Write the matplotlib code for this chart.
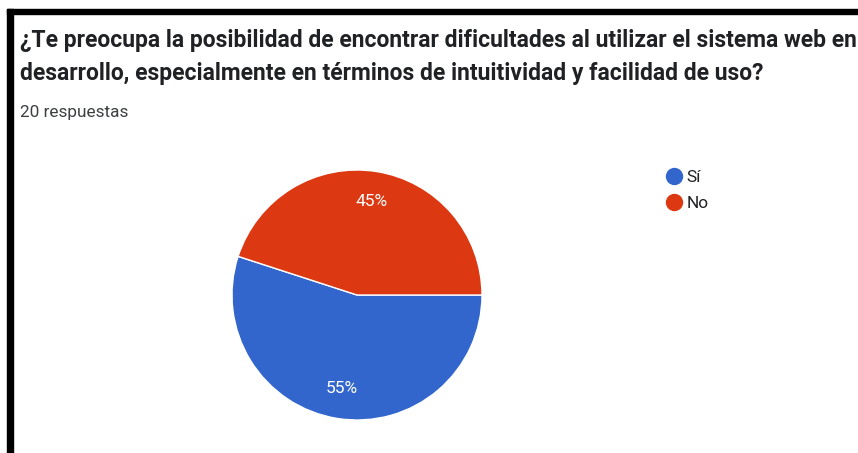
import matplotlib.pyplot as plt
from matplotlib.lines import Line2D
from matplotlib.patches import Rectangle

# survey answers
labels = ['Sí', 'No']
shares = [55, 45]
colors = ['#3366CC', '#DC3912']

title_lines = ['¿Te preocupa la posibilidad de encontrar dificultades al utilizar el sistema web en',
               'desarrollo, especialmente en términos de intuitividad y facilidad de uso?']
subtitle = '20 respuestas'

W, H = 858, 453
plt.rcParams['font.family'] = ['Roboto', 'DejaVu Sans']

fig = plt.figure(figsize=(W / 100, H / 100), dpi=100)


def fx(px):
    return px / W


def fy(py):
    # pixel rows count from the top
    return 1 - py / H


# black frame on the left and top
fig.add_artist(Rectangle((fx(7), 0), fx(6), fy(9), color='black',
                         transform=fig.transFigure))
fig.add_artist(Rectangle((fx(7), fy(14)), 1, fy(9) - fy(14), color='black',
                         transform=fig.transFigure))

for i, line in enumerate(title_lines):
    fig.text(fx(20), fy(47 + 33 * i), line, fontsize=16.5, fontweight='bold',
             color='#202124', va='baseline', ha='left')
fig.text(fx(20), fy(117), subtitle, fontsize=12.4, color='#3c4043', va='baseline')

# pie centred at (357, 295) px, radius 125 px
cx, cy, r = 357, 295, 125
ax = fig.add_axes([fx(cx - r), fy(cy + r), 2 * r / W, 2 * r / H])
ax.pie(shares, colors=colors, startangle=0, counterclock=False,
       autopct='%1.0f%%', pctdistance=0.76,
       wedgeprops=dict(edgecolor='white', linewidth=1),
       textprops=dict(color='white', fontsize=12.5))
ax.set_xlim(-1, 1)
ax.set_ylim(-1, 1)
ax.set_aspect('equal')

handles = [Line2D([], [], marker='o', linestyle='', markersize=11.5,
                  markerfacecolor=c, markeredgecolor=c) for c in colors]
fig.legend(handles, labels, loc='upper left', bbox_to_anchor=(fx(666), fy(170)),
           frameon=False, fontsize=12.4, handlelength=0.9, handletextpad=0.3,
           labelspacing=0.62, borderpad=0, borderaxespad=0, labelcolor='#202124')

fig.savefig('out.png', dpi=100)
